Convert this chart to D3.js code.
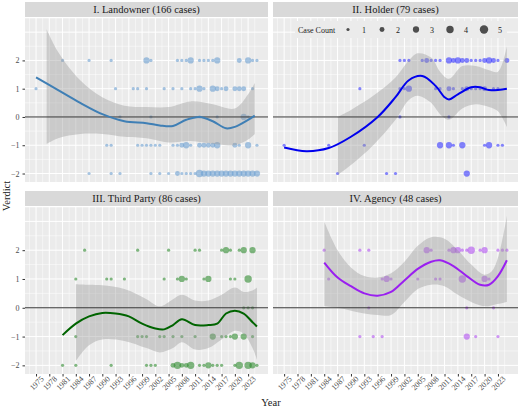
<!DOCTYPE html>
<html>
<head>
<meta charset="utf-8">
<script src="https://cdn.jsdelivr.net/npm/d3@7"></script>
<style>
  body { margin: 0; background: #fff; }
  text { font-family: "Liberation Serif", "DejaVu Serif", serif; }
</style>
</head>
<body>
<div id="chart"></div>
<script>
// ---- data ----
const xTicks = d3.range(1975, 2024, 3);
const yTicks = [-2, -1, 0, 1, 2];
const legendCounts = [1, 2, 3, 4, 5];

// points: [year, verdict, case count]
const landownerPts = [
  [1981,2,1],[1987,2,1],[1992,2,1],[2000,2,3],[2001,2,1],[2007,2,1],[2008,2,1],[2009,2,1],[2010,2,3],
  [2012,2,1],[2013,2,1],[2014,2,1],[2015,2,1],[2016,2,3],[2021,2,2],[2023,2,3],[2024,2,1],[2025,2,1],
  [1975,1,1],[1993,1,1],[1997,1,1],[1998,1,1],[2000,1,1],[2004,1,1],[2006,1,1],[2008,1,1],[2010,1,1],
  [2011,1,1],[2012,1,3],[2013,1,1],[2015,1,3],[2016,1,2],[2017,1,1],[2018,1,2],[2020,1,2],[2021,1,2],
  [2022,1,2],[2024,1,1],
  [1994,0,1],[2001,0,1],[2012,0,1],[2016,0,1],[2022,0,3],[2023,0,1],
  [1991,-1,1],[1992,-1,1],[1998,-1,1],[1999,-1,1],[2000,-1,1],[2001,-1,1],[2002,-1,1],[2003,-1,1],
  [2006,-1,1],[2007,-1,1],[2008,-1,2],[2009,-1,3],[2010,-1,1],[2012,-1,2],[2013,-1,2],[2014,-1,2],
  [2015,-1,2],[2016,-1,3],[2020,-1,2],[2021,-1,1],[2023,-1,3],[2025,-1,1],
  [1987,-2,1],[1992,-2,1],[1994,-2,1],[2001,-2,1],[2003,-2,1],[2005,-2,1],[2007,-2,2],[2008,-2,1],
  [2009,-2,1],[2010,-2,1],[2011,-2,1],[2012,-2,4],[2013,-2,3],[2014,-2,3],[2015,-2,3],[2016,-2,3],
  [2017,-2,3],[2018,-2,3],[2019,-2,3],[2020,-2,3],[2021,-2,3],[2022,-2,3],[2023,-2,3],[2024,-2,3],[2025,-2,3]
];
const holderPts = [
  [2001,2,1],[2002,2,1],[2003,2,1],[2006,2,1],[2007,2,2],[2008,2,1],[2009,2,1],[2010,2,1],[2012,2,3],
  [2013,2,2],[2014,2,3],[2015,2,2],[2016,2,2],[2017,2,1],[2018,2,1],[2019,2,1],[2020,2,2],[2021,2,3],
  [2022,2,2],[2023,2,1],[2025,2,2],
  [1992,1,1],[2001,1,1],[2002,1,1],[2003,1,3],[2009,1,1],[2010,1,1],[2012,1,2],[2013,1,1],[2015,1,1],
  [2016,1,2],[2017,1,1],[2018,1,1],[2019,1,1],[2020,1,2],[2022,1,1],[2023,1,1],
  [2001,0,1],[2012,0,1],
  [1975,-1,1],[1985,-1,1],[1993,-1,1],[2010,-1,3],[2012,-1,3],[2013,-1,1],[2015,-1,3],[2020,-1,1],
  [2021,-1,3],[2023,-1,1],[2024,-1,1],
  [1987,-2,1],[1998,-2,1],[2000,-2,1],[2016,-2,3]
];
const thirdPts = [
  [1986,2,1],[1998,2,1],[2005,2,1],[2011,2,1],[2012,2,1],[2017,2,1],[2018,2,3],[2019,2,1],[2021,2,1],
  [2022,2,3],[2024,2,3],
  [1984,1,1],[1991,1,1],[1992,1,1],[1995,1,1],[2004,1,1],[2007,1,1],[2008,1,3],[2009,1,1],[2013,1,1],
  [2014,1,3],[2019,1,1],[2020,1,1],[2023,1,4],
  [2022,0,1],[2023,0,1],[2024,0,1],
  [1984,-1,1],[1998,-1,1],[1999,-1,1],[2000,-1,1],[2003,-1,1],[2004,-1,1],[2006,-1,1],[2008,-1,1],
  [2011,-1,1],[2015,-1,3],[2017,-1,1],[2018,-1,1],[2019,-1,1],[2020,-1,3],[2022,-1,3],[2024,-1,1],
  [1981,-2,1],[1984,-2,1],[1992,-2,1],[2000,-2,1],[2001,-2,1],[2002,-2,1],[2006,-2,2],[2007,-2,4],
  [2008,-2,2],[2009,-2,2],[2010,-2,4],[2012,-2,1],[2013,-2,1],[2014,-2,3],[2015,-2,1],[2016,-2,1],
  [2017,-2,1],[2020,-2,1],[2021,-2,4],[2023,-2,4],[2024,-2,3],[2025,-2,1]
];
const agencyPts = [
  [1984,2,1],[1992,2,1],[1994,2,1],[2007,2,3],[2008,2,1],[2012,2,1],[2013,2,3],[2014,2,3],[2015,2,1],
  [2016,2,1],[2017,2,4],[2019,2,1],[2020,2,3],[2023,2,1],[2024,2,1],[2025,2,1],
  [1985,1,1],[1997,1,1],[1998,1,3],[1999,1,1],[2005,1,1],[2009,1,1],[2010,1,1],[2015,1,4],[2020,1,3],[2021,1,1],
  [1994,0,1],[2016,0,1],[2022,0,1],
  [1992,-1,1],[1995,-1,1],[1997,-1,1],[2016,-1,3],[2018,-1,1],[2023,-1,1]
];

// smoother fits: [year, fit]; bands: [year, lower, upper]
const landownerFit = [[1975,1.4],[1980,0.95],[1985,0.5],[1990,0.1],[1995,-0.15],[2000,-0.22],[2003,-0.3],
  [2006,-0.32],[2009,-0.1],[2012,0.0],[2015,-0.15],[2018,-0.4],[2020,-0.35],[2023,-0.1],[2024.5,0.05]];
const landownerBand = [[1977.4,-0.95,3.1],[1980,-0.75,2.3],[1985,-0.6,1.3],[1990,-0.6,0.7],[1995,-0.7,0.4],
  [2000,-0.75,0.35],[2005,-0.9,0.35],[2010,-0.85,0.55],[2015,-0.95,0.45],[2020,-1.0,0.3],[2023,-0.8,0.8],[2024.5,-0.6,1.2]];
const holderFit = [[1975,-1.08],[1980,-1.21],[1985,-1.1],[1990,-0.7],[1996,0.0],[2000,0.7],[2003,1.3],
  [2006,1.45],[2009,1.1],[2011,0.7],[2012,0.62],[2014,0.8],[2017,1.05],[2019,1.05],[2021,0.95],[2025,1.0]];
const holderBand = [[1987,-2.05,0.0],[1990,-1.7,0.25],[1995,-1.0,0.75],[2000,-0.1,1.4],[2003,0.6,2.0],
  [2005,0.75,2.25],[2008,0.5,2.1],[2010,0.1,1.6],[2012,-0.1,1.35],[2015,0.3,1.8],[2018,0.45,1.8],
  [2021,0.35,1.65],[2023,0.2,1.6],[2025,-0.35,2.5]];
const thirdFit = [[1981,-0.95],[1984,-0.55],[1987,-0.3],[1990,-0.18],[1993,-0.2],[1996,-0.3],[1999,-0.55],
  [2002,-0.72],[2004,-0.75],[2006,-0.6],[2008,-0.4],[2011,-0.6],[2014,-0.6],[2016,-0.55],[2018,-0.2],
  [2020,-0.1],[2022,-0.2],[2024,-0.5],[2025,-0.65]];
const thirdBand = [[1984,-1.85,0.82],[1987,-1.3,0.8],[1990,-1.1,0.78],[1995,-1.15,0.65],[2000,-1.4,0.3],
  [2003,-1.55,0.05],[2006,-1.4,0.3],[2008,-1.2,0.45],[2011,-1.45,0.25],[2014,-1.4,0.25],[2017,-1.1,0.45],
  [2020,-0.8,0.7],[2022,-0.9,0.55],[2024,-1.4,0.6],[2025,-1.8,0.7]];
const agencyFit = [[1984,1.57],[1987,1.05],[1990,0.75],[1993,0.5],[1996,0.42],[1999,0.55],[2002,0.95],
  [2005,1.35],[2008,1.6],[2010,1.65],[2013,1.45],[2016,1.1],[2019,0.8],[2021,0.8],[2023,1.1],[2025,1.65]];
const agencyBand = [[1984,0.05,3.0],[1987,0.0,2.0],[1990,-0.1,1.4],[1993,-0.2,1.1],[1996,-0.25,1.05],
  [1999,-0.25,1.2],[2002,0.2,1.6],[2005,0.65,2.15],[2008,0.8,2.45],[2011,0.75,2.4],[2014,0.45,2.0],
  [2017,0.2,1.5],[2020,0.05,1.15],[2022,0.1,1.35],[2025,0.2,3.2]];

const panels = [
  { title: "I. Landowner (166 cases)", pts: landownerPts, fit: landownerFit, band: landownerBand,
    line: "#3f7fb5", point: "#6a9fd0", col: 0, row: 0 },
  { title: "II. Holder (79 cases)", pts: holderPts, fit: holderFit, band: holderBand,
    line: "#0000ee", point: "#3333ff", col: 1, row: 0 },
  { title: "III. Third Party (86 cases)", pts: thirdPts, fit: thirdFit, band: thirdBand,
    line: "#006400", point: "#2e8b2e", col: 0, row: 1 },
  { title: "IV. Agency (48 cases)", pts: agencyPts, fit: agencyFit, band: agencyBand,
    line: "#9a1ff0", point: "#b050f0", col: 1, row: 1 }
];

// ---- layout ----
const W = 520, H = 410;
const colX = [[25, 268], [273, 518]];
const rowY = [[18, 182], [207, 374]];
const stripH = 15;

const svg = d3.select("#chart").append("svg").attr("width", W).attr("height", H);
const rScale = d3.scaleSqrt().domain([1, 5]).range([1.6, 4.2]);

panels.forEach(p => {
  const [x0, x1] = colX[p.col], [y0, y1] = rowY[p.row];
  const x = d3.scaleLinear().domain([1972.5, 2027.5]).range([x0, x1]);
  const y = d3.scaleLinear().domain([-2.3, 3.5]).range([y1, y0]);
  const g = svg.append("g");

  g.append("rect").attr("x", x0).attr("y", y0).attr("width", x1 - x0).attr("height", y1 - y0).attr("fill", "#ebebeb");
  // strip
  g.append("rect").attr("x", x0).attr("y", y0 - stripH - 1).attr("width", x1 - x0).attr("height", stripH).attr("fill", "#d9d9d9");
  g.append("text").attr("x", (x0 + x1) / 2).attr("y", y0 - 5).attr("text-anchor", "middle")
    .attr("font-size", 10.5).attr("fill", "#1a1a1a").text(p.title);

  // grid
  const minorX = xTicks.map(t => t + 1.5).concat([xTicks[0] - 1.5]);
  const minorY = [-1.5, -0.5, 0.5, 1.5, 2.5, 3.5];
  g.selectAll(".mx").data(minorX).join("line").attr("class", "mx").attr("x1", d => x(d)).attr("x2", d => x(d))
    .attr("y1", y0).attr("y2", y1).attr("stroke", "#fff").attr("stroke-width", 0.5);
  g.selectAll(".my").data(minorY.concat([3])).join("line").attr("class", "my").attr("y1", d => y(d)).attr("y2", d => y(d))
    .attr("x1", x0).attr("x2", x1).attr("stroke", "#fff").attr("stroke-width", d => d === 3 ? 1 : 0.5);
  g.selectAll(".gx").data(xTicks).join("line").attr("class", "gx").attr("x1", d => x(d)).attr("x2", d => x(d))
    .attr("y1", y0).attr("y2", y1).attr("stroke", "#fff").attr("stroke-width", 1);
  g.selectAll(".gy").data(yTicks).join("line").attr("class", "gy").attr("y1", d => y(d)).attr("y2", d => y(d))
    .attr("x1", x0).attr("x2", x1).attr("stroke", "#fff").attr("stroke-width", 1);

  // points
  g.selectAll(".pt").data(p.pts).join("circle").attr("class", "pt")
    .attr("cx", d => x(d[0])).attr("cy", d => y(d[1])).attr("r", d => rScale(d[2]))
    .attr("fill", p.point).attr("fill-opacity", 0.6);

  // band + fit
  g.append("path").datum(p.band)
    .attr("d", d3.area().x(d => x(d[0])).y0(d => y(d[1])).y1(d => y(d[2])).curve(d3.curveCatmullRom))
    .attr("fill", "#999").attr("fill-opacity", 0.4);
  g.append("line").attr("x1", x0).attr("x2", x1).attr("y1", y(0)).attr("y2", y(0))
    .attr("stroke", "#333").attr("stroke-width", 1);
  g.append("path").datum(p.fit)
    .attr("d", d3.line().x(d => x(d[0])).y(d => y(d[1])).curve(d3.curveCatmullRom))
    .attr("fill", "none").attr("stroke", p.line).attr("stroke-width", 2);

  // axes
  if (p.col === 0) {
    const ya = g.append("g").attr("transform", `translate(${x0},0)`)
      .call(d3.axisLeft(y).tickValues(yTicks).tickFormat(d3.format("d")).tickSize(2.5).tickPadding(3));
    ya.select(".domain").remove();
    ya.selectAll("line").attr("stroke", "#333");
    ya.selectAll("text").attr("fill", "#4d4d4d").attr("font-size", 8)
      .style("font-family", "Liberation Serif, serif");
  }
  if (p.row === 1) {
    const xa = g.append("g").attr("transform", `translate(0,${y1})`)
      .call(d3.axisBottom(x).tickValues(xTicks).tickFormat(d3.format("d")).tickSize(2.5).tickPadding(2));
    xa.select(".domain").remove();
    xa.selectAll("line").attr("stroke", "#333");
    xa.selectAll("text").attr("fill", "#4d4d4d").attr("font-size", 8)
      .style("font-family", "Liberation Serif, serif")
      .attr("text-anchor", "end").attr("dx", "0.2em").attr("dy", "0.6em")
      .attr("transform", "rotate(-45)");
  }

  // legend inside Holder panel
  if (p.col === 1 && p.row === 0) {
    const lg = g.append("g");
    lg.append("rect").attr("x", 295).attr("y", 21).attr("width", 212).attr("height", 17).attr("fill", "#ebebeb");
    lg.append("text").attr("x", 298).attr("y", 32.5).attr("font-size", 8).attr("fill", "#1a1a1a").text("Case Count");
    lg.selectAll(".lc").data(legendCounts).join("circle").attr("class", "lc")
      .attr("cx", (d, i) => 348 + i * 34).attr("cy", 29.5).attr("r", d => rScale(d))
      .attr("fill", "#333").attr("fill-opacity", 0.85);
    lg.selectAll(".lt").data(legendCounts).join("text").attr("class", "lt")
      .attr("x", (d, i) => 362 + i * 34).attr("y", 32.5).attr("font-size", 8).attr("fill", "#1a1a1a")
      .text(d => d);
  }
});

svg.append("text").attr("x", 271).attr("y", 406).attr("text-anchor", "middle")
  .attr("font-size", 10.5).attr("fill", "#1a1a1a").text("Year");
svg.append("text").attr("transform", "translate(10,196) rotate(-90)").attr("text-anchor", "middle")
  .attr("font-size", 10.5).attr("fill", "#1a1a1a").text("Verdict");
</script>
</body>
</html>
